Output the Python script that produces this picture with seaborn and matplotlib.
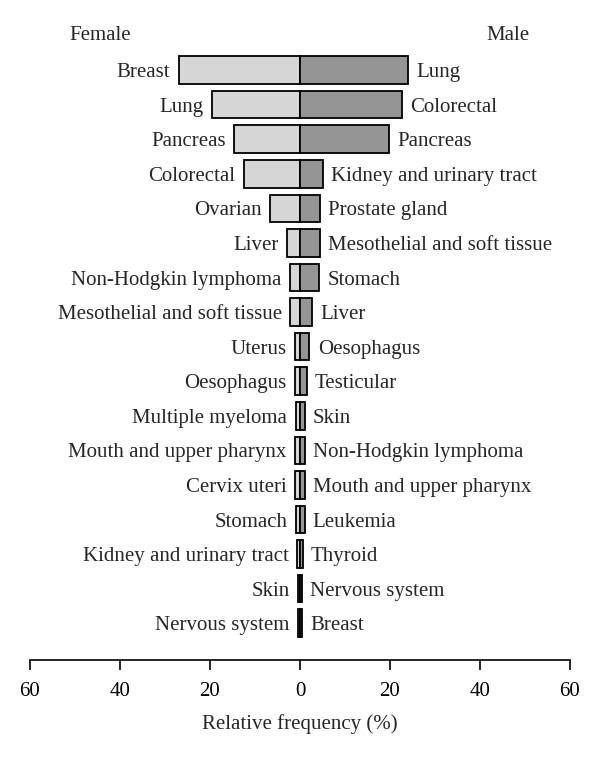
import pandas as pd
import matplotlib.pyplot as plt
import seaborn as sns

# Data (relative frequency, %)
female_sites = ["Breast", "Lung", "Pancreas", "Colorectal", "Ovarian", "Liver",
                "Non-Hodgkin lymphoma", "Mesothelial and soft tissue", "Uterus",
                "Oesophagus", "Multiple myeloma", "Mouth and upper pharynx",
                "Cervix uteri", "Stomach", "Kidney and urinary tract", "Skin",
                "Nervous system"]
female_freq = [27.0, 19.5, 14.7, 12.5, 6.6, 2.9, 2.2, 2.2, 1.1, 1.1, 1.0, 1.1,
               1.1, 0.9, 0.6, 0.4, 0.4]
male_sites = ["Lung", "Colorectal", "Pancreas", "Kidney and urinary tract",
              "Prostate gland", "Mesothelial and soft tissue", "Stomach", "Liver",
              "Oesophagus", "Testicular", "Skin", "Non-Hodgkin lymphoma",
              "Mouth and upper pharynx", "Leukemia", "Thyroid", "Nervous system",
              "Breast"]
male_freq = [24.1, 22.7, 19.8, 5.0, 4.4, 4.4, 4.2, 2.6, 2.1, 1.5, 1.0, 1.0,
             1.0, 1.0, 0.6, 0.4, 0.4]
ticks = [-60, -40, -20, 0, 20, 40, 60]
tick_labels = ["60", "40", "20", "0", "20", "40", "60"]

df = pd.DataFrame({"rank": range(len(female_sites)),
                   "female": [-v for v in female_freq],
                   "male": male_freq})

sns.set_style("white")
plt.rcParams["font.family"] = ["Liberation Serif", "DejaVu Serif"]
fs = 15

fig = plt.figure(figsize=(6, 7.58), dpi=100)
ax = fig.add_axes([0.05, 0.129, 0.9, 0.805])

sns.barplot(data=df, x="female", y="rank", orient="h", native_scale=True,
            color="#d6d6d6", edgecolor="black", linewidth=1.3, width=0.8,
            saturation=1, ax=ax)
sns.barplot(data=df, x="male", y="rank", orient="h", native_scale=True,
            color="#959595", edgecolor="black", linewidth=1.3, width=0.8,
            saturation=1, ax=ax)

# Labels beside bars
for i, row in df.iterrows():
    ax.annotate(female_sites[i], (row["female"], i), xytext=(-6, 0),
                textcoords="offset points", ha="right", va="center_baseline",
                fontsize=fs)
    ax.annotate(male_sites[i], (row["male"], i), xytext=(6, 0),
                textcoords="offset points", ha="left", va="center_baseline",
                fontsize=fs)

ax.set_xlim(-60, 60)
ax.set_ylim(17.07, -0.58)
ax.set_xticks(ticks)
ax.set_xticklabels(tick_labels, fontsize=fs)
ax.set_yticks([])
ax.set_ylabel("")
ax.set_xlabel("Relative frequency (%)", fontsize=fs, labelpad=9)
ax.tick_params(axis="x", direction="out", length=7, width=1.2, pad=9,
               bottom=True, colors="black")
for s in ["top", "left", "right"]:
    ax.spines[s].set_visible(False)
ax.spines["bottom"].set_linewidth(1.2)
ax.spines["bottom"].set_color("black")

fig.text(100 / 600, 1 - 33 / 758, "Female", ha="center", va="center_baseline",
         fontsize=fs)
fig.text(508 / 600, 1 - 33 / 758, "Male", ha="center", va="center_baseline",
         fontsize=fs)

plt.savefig("out.png", dpi=100)
plt.close()
